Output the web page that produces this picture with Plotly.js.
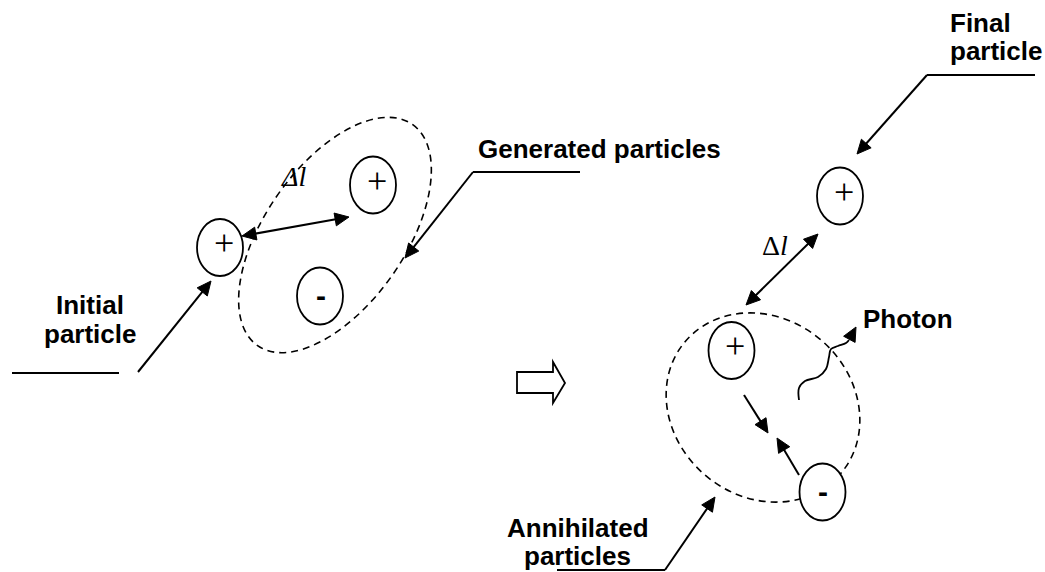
<!DOCTYPE html>
<html><head><meta charset="utf-8">
<script src="https://cdn.plot.ly/plotly-3.0.1.min.js"></script>
<style>html,body{margin:0;padding:0;background:#fff;overflow:hidden}</style>
</head><body><div id="chart" style="width:1045px;height:572px"></div>
<script>
// ---- diagram data (positions, in pixel units) ----
const particleX = [220, 373, 320, 840, 731.5, 822.5];
const particleY = [247.5, 185, 296, 196, 350.5, 492];
const particleSign = ['+', '+', '-', '+', '+', '-'];

const labelText = ['Initial', 'particle', 'Generated particles', 'Final', 'particle', 'Photon', 'Annihilated', 'particles'];
const labelX = [89.5, 90.5, 599, 949, 949, 862, 577.5, 577.5];
const labelBaseline = [314, 343, 158, 32, 60, 328, 537, 565];
const labelAnchor = ['center', 'center', 'center', 'left', 'left', 'left', 'center', 'center'];

const deltaText = ['<i>Δl</i>', 'Δ<i>l</i>'];
const deltaX = [293, 775];
const deltaY = [176, 245];

// leader underlines
const underlineX0 = [12, 473, 927, 557];
const underlineX1 = [119, 580, 1035, 665];
const underlineY = [373, 172, 75, 570];

// single-headed arrows: tail -> tip
const arrowX0 = [138, 473, 927, 665, 744, 799];
const arrowY0 = [372, 172, 75, 570, 395, 475];
const arrowX1 = [211, 405, 857, 715, 768, 777];
const arrowY1 = [281, 258, 154, 497, 433, 438];

// double-headed arrows (Δl)
const dblX0 = [242, 746];
const dblY0 = [236, 305];
const dblX1 = [349, 818];
const dblY1 = [217, 234];

// dashed regions: centre, semi-axes, tilt (deg)
const regionCX = [335, 763];
const regionCY = [235, 407.5];
const regionA = [135, 102];
const regionB = [70, 89];
const regionTilt = [-55, 40];

// photon wavy line and arrow tip
const photonX = [799, 799, 805, 818, 826, 829, 831, 838, 846, 849];
const photonY = [400, 388, 381, 377, 369, 357, 349, 346, 343, 340];
const photonTipX = 856, photonTipY = 327;

// hollow transition arrow outline
const blockX = [517, 553, 553, 565, 553, 553, 517];
const blockY = [372, 372, 362, 383, 403, 393, 393];

// ---- build ----
const shapes = [];
const annotations = [];
const K = 0.5523;
function ellipsePath(cx, cy, a, b, deg) {
  const t = deg * Math.PI / 180;
  const ux = a * Math.cos(t), uy = a * Math.sin(t);
  const vx = -b * Math.sin(t), vy = b * Math.cos(t);
  const P = (p, q) => (cx + p * ux + q * vx).toFixed(2) + ',' + (cy + p * uy + q * vy).toFixed(2);
  return 'M' + P(1, 0) + ' C' + P(1, K) + ' ' + P(K, 1) + ' ' + P(0, 1) +
    ' C' + P(-K, 1) + ' ' + P(-1, K) + ' ' + P(-1, 0) +
    ' C' + P(-1, -K) + ' ' + P(-K, -1) + ' ' + P(0, -1) +
    ' C' + P(K, -1) + ' ' + P(1, -K) + ' ' + P(1, 0) + ' Z';
}
const HL = 14, HW = 6.5;
function headShape(x0, y0, x1, y1) {
  const dx = x1 - x0, dy = y1 - y0, d = Math.hypot(dx, dy);
  const ux = dx / d, uy = dy / d;
  const bx = x1 - HL * ux, by = y1 - HL * uy;
  shapes.push({type: 'path', xref: 'x', yref: 'y', layer: 'above',
    path: `M${x1},${y1} L${(bx - HW * uy).toFixed(2)},${(by + HW * ux).toFixed(2)} L${(bx + HW * uy).toFixed(2)},${(by - HW * ux).toFixed(2)} Z`,
    fillcolor: 'black', line: {color: 'black', width: 1}});
  return [x1 - (HL - 2) * ux, y1 - (HL - 2) * uy];
}
function lineShape(x0, y0, x1, y1, w) {
  shapes.push({type: 'line', xref: 'x', yref: 'y', layer: 'above', x0, y0, x1, y1,
    line: {color: 'black', width: w || 2}});
}

// dashed regions
for (let i = 0; i < regionCX.length; i++) {
  shapes.push({type: 'path', xref: 'x', yref: 'y', layer: 'above',
    path: ellipsePath(regionCX[i], regionCY[i], regionA[i], regionB[i], regionTilt[i]),
    line: {color: 'black', width: 1.6, dash: '7px,5px'}});
}
// particles
const RX = 23, RY = 28.5;
for (let i = 0; i < particleX.length; i++) {
  shapes.push({type: 'circle', xref: 'x', yref: 'y', layer: 'above',
    x0: particleX[i] - RX, x1: particleX[i] + RX, y0: particleY[i] - RY, y1: particleY[i] + RY,
    fillcolor: 'white', line: {color: 'black', width: 1.8}});
  const plus = particleSign[i] === '+';
  annotations.push({x: particleX[i] + (plus ? 3.5 : 0.5), y: particleY[i] + (plus ? -4.5 : -1),
    xref: 'x', yref: 'y', showarrow: false, text: particleSign[i],
    xanchor: 'center', yanchor: 'middle',
    font: plus ? {family: 'Liberation Serif, Times New Roman, serif', size: 36, color: 'black'}
               : {family: 'Liberation Sans, Arial, sans-serif', size: 30, color: 'black', weight: 'bold'}});
}
// underlines
for (let i = 0; i < underlineY.length; i++) lineShape(underlineX0[i], underlineY[i], underlineX1[i], underlineY[i], 2);
// arrows
for (let i = 0; i < arrowX0.length; i++) {
  const b = headShape(arrowX0[i], arrowY0[i], arrowX1[i], arrowY1[i]);
  lineShape(arrowX0[i], arrowY0[i], b[0], b[1], 2);
}
for (let i = 0; i < dblX0.length; i++) {
  const b1 = headShape(dblX0[i], dblY0[i], dblX1[i], dblY1[i]);
  const b0 = headShape(dblX1[i], dblY1[i], dblX0[i], dblY0[i]);
  lineShape(b0[0], b0[1], b1[0], b1[1], 2);
}
// photon head
headShape(photonX[photonX.length - 1], photonY[photonY.length - 1], photonTipX, photonTipY);
// block arrow
let bp = 'M' + blockX[0] + ',' + blockY[0];
for (let i = 1; i < blockX.length; i++) bp += ' L' + blockX[i] + ',' + blockY[i];
shapes.push({type: 'path', xref: 'x', yref: 'y', layer: 'above', path: bp + ' Z',
  fillcolor: 'white', line: {color: 'black', width: 1.8}});

// labels
const LS = 26;
for (let i = 0; i < labelText.length; i++) {
  annotations.push({x: labelX[i], y: labelBaseline[i] - 0.347 * LS, xref: 'x', yref: 'y',
    showarrow: false, text: '<b>' + labelText[i] + '</b>', xanchor: labelAnchor[i], yanchor: 'middle',
    borderpad: 0, font: {family: 'Liberation Sans, Arial, sans-serif', size: LS, color: 'black'}});
}
for (let i = 0; i < deltaText.length; i++) {
  annotations.push({x: deltaX[i], y: deltaY[i], xref: 'x', yref: 'y', showarrow: false,
    text: deltaText[i], xanchor: 'center', yanchor: 'middle',
    font: {family: 'Liberation Serif, Times New Roman, serif', size: 28, color: 'black'}});
}

const data = [{x: photonX, y: photonY, type: 'scatter', mode: 'lines',
  line: {color: 'black', width: 1.8, shape: 'spline', smoothing: 1}, hoverinfo: 'skip', showlegend: false}];

const layout = {
  width: 1045, height: 572, margin: {l: 0, r: 0, t: 0, b: 0, pad: 0},
  paper_bgcolor: 'white', plot_bgcolor: 'white', showlegend: false,
  xaxis: {range: [0, 1045], visible: false, fixedrange: true},
  yaxis: {range: [572, 0], visible: false, fixedrange: true},
  shapes, annotations
};
Plotly.newPlot('chart', data, layout, {staticPlot: true, displayModeBar: false});
</script></body></html>
